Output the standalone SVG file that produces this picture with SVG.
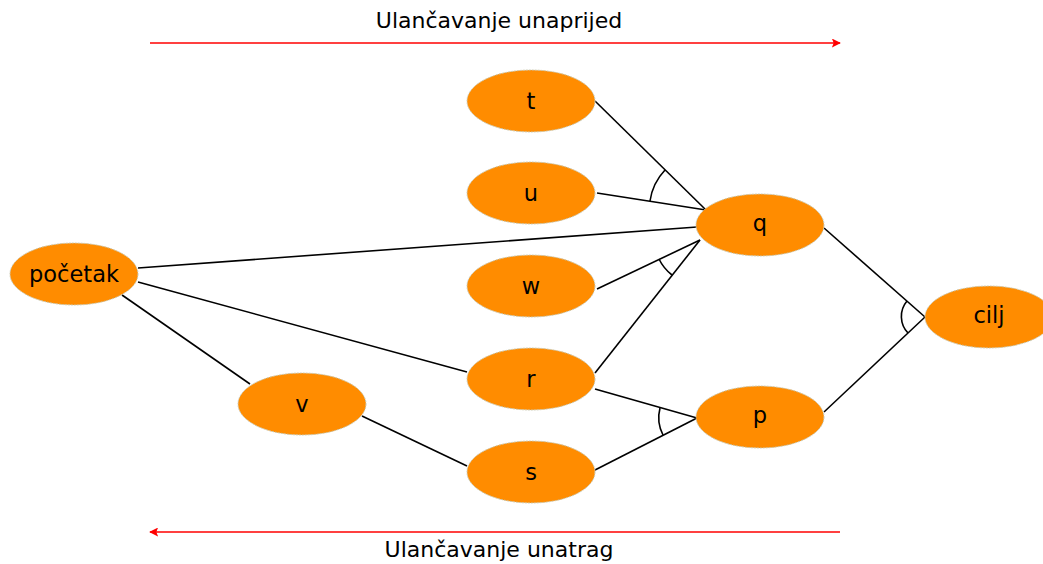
<svg xmlns="http://www.w3.org/2000/svg" width="1043" height="564" viewBox="0 0 1043 564">
  <style>
    .node ellipse { fill: #ff8c00; stroke: #c8c8b0; stroke-width: 1; stroke-dasharray: 2 1; }
    .node text { font-family: "DejaVu Sans", sans-serif; font-size: 22.5px; fill: #000; text-anchor: middle; dominant-baseline: central; }
    .edge { stroke: #000; stroke-width: 1.6; fill: none; }
    .dir { stroke: #ff0000; stroke-width: 1.6; fill: none; }
    .label { font-family: "DejaVu Sans", sans-serif; font-size: 22px; fill: #000; text-anchor: middle; }
  </style>
  <defs>
    <marker id="redArrow" viewBox="0 0 10 10" refX="9" refY="5" markerWidth="9" markerHeight="9" markerUnits="userSpaceOnUse" orient="auto">
      <path d="M0,0 L10,5 L0,10 L2,5 Z" fill="#ff0000"/>
    </marker>
  </defs>

  <rect width="1043" height="564" fill="#ffffff"/>

  <!-- chaining direction arrows -->
  <g id="directions">
    <text class="label" x="499" y="28">Ulančavanje unaprijed</text>
    <line class="dir" x1="150" y1="43" x2="840" y2="43" marker-end="url(#redArrow)"/>
    <line class="dir" x1="840" y1="532" x2="150" y2="532" marker-end="url(#redArrow)"/>
    <text class="label" x="499" y="557">Ulančavanje unatrag</text>
  </g>

  <!-- connectors -->
  <g id="connectors">
    <line class="edge" x1="595" y1="101" x2="706" y2="210"/>
    <line class="edge" x1="597" y1="193" x2="706" y2="210"/>
    <line class="edge" x1="138" y1="268" x2="697" y2="227"/>
    <line class="edge" x1="597" y1="289" x2="700" y2="240"/>
    <line class="edge" x1="595" y1="373" x2="700" y2="240"/>
    <line class="edge" x1="138" y1="282" x2="467" y2="372"/>
    <line class="edge" x1="122" y1="295" x2="250" y2="384"/>
    <line class="edge" x1="362" y1="416" x2="467" y2="466"/>
    <line class="edge" x1="595" y1="389" x2="697" y2="418"/>
    <line class="edge" x1="595" y1="470" x2="697" y2="418"/>
    <line class="edge" x1="824" y1="228" x2="925" y2="317"/>
    <line class="edge" x1="824" y1="412" x2="925" y2="317"/>
    <!-- conjunction arcs -->
    <path class="edge" d="M665,170 A57,57 0 0 0 650,201"/>
    <path class="edge" d="M659,259 A45,45 0 0 0 672,275"/>
    <path class="edge" d="M660,408 A38,38 0 0 0 663,435"/>
    <path class="edge" d="M907,301 A24,24 0 0 0 908,333"/>
  </g>

  <g id="node-t" class="node"><ellipse cx="531" cy="101" rx="64" ry="31"/><text x="531" y="101">t</text></g>
  <g id="node-u" class="node"><ellipse cx="531" cy="193" rx="64" ry="31"/><text x="531" y="193">u</text></g>
  <g id="node-w" class="node"><ellipse cx="531" cy="286" rx="64" ry="31"/><text x="531" y="286">w</text></g>
  <g id="node-r" class="node"><ellipse cx="531" cy="379" rx="64" ry="31"/><text x="531" y="379">r</text></g>
  <g id="node-s" class="node"><ellipse cx="531" cy="472" rx="64" ry="31"/><text x="531" y="472">s</text></g>
  <g id="node-q" class="node"><ellipse cx="760" cy="225" rx="64" ry="31"/><text x="760" y="223">q</text></g>
  <g id="node-p" class="node"><ellipse cx="760" cy="417" rx="64" ry="31"/><text x="760" y="415">p</text></g>
  <g id="node-cilj" class="node"><ellipse cx="989" cy="317" rx="64" ry="31"/><text x="989" y="315">cilj</text></g>
  <g id="node-pocetak" class="node"><ellipse cx="74" cy="274" rx="64" ry="31"/><text x="74" y="274">početak</text></g>
  <g id="node-v" class="node"><ellipse cx="302" cy="404" rx="64" ry="31"/><text x="302" y="404">v</text></g>
</svg>
